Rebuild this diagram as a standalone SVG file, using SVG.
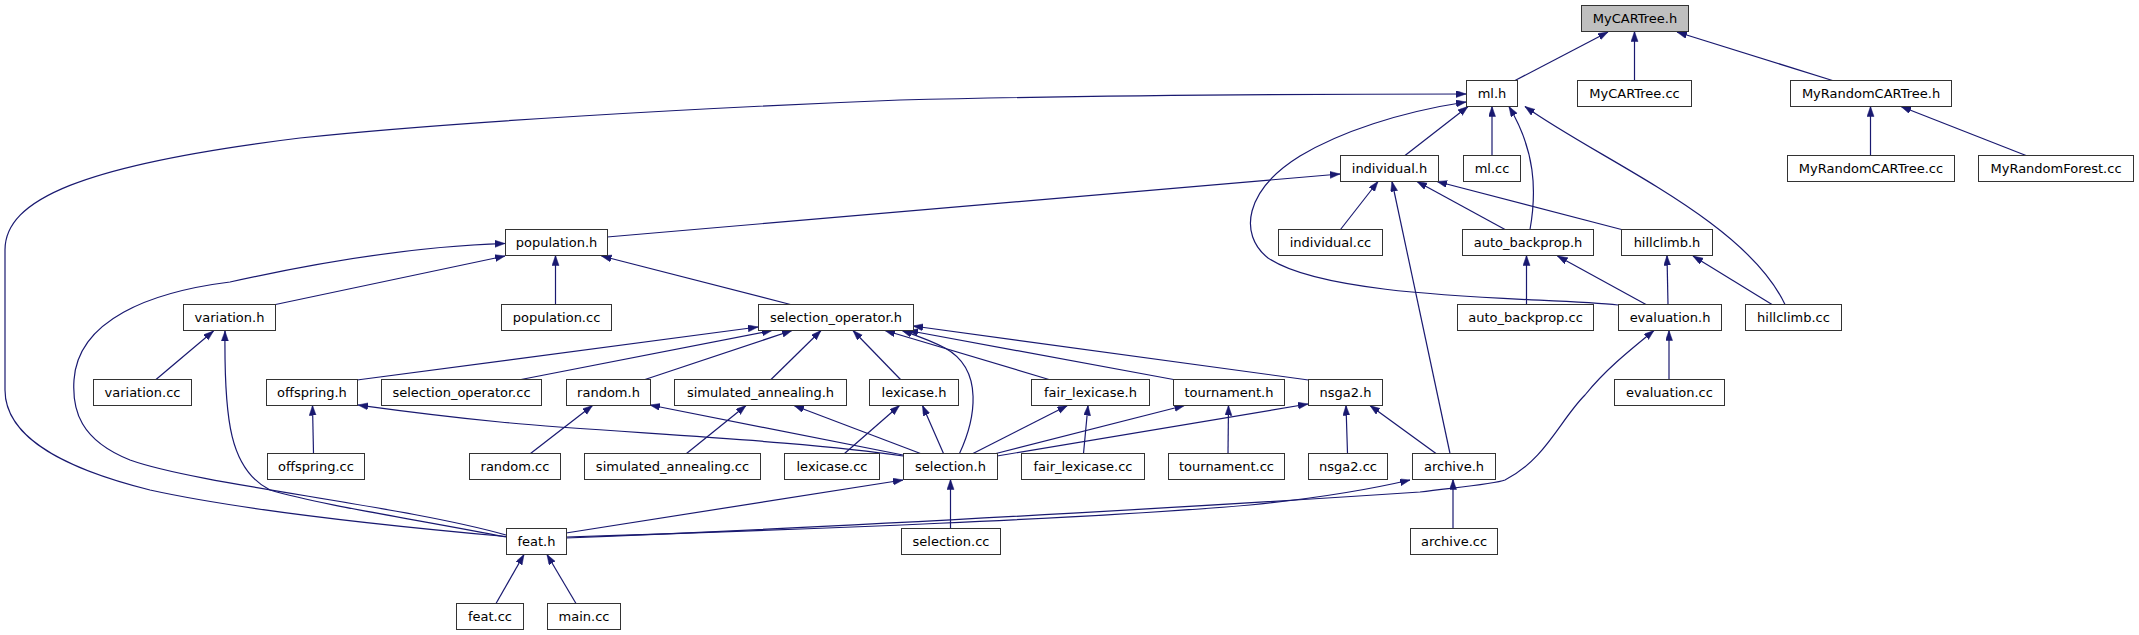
<svg xmlns="http://www.w3.org/2000/svg" width="2139" height="635" viewBox="0 0 2139 635">
<style>
.n rect{fill:#ffffff;stroke:#333333;stroke-width:1}
.root rect{fill:#bfbfbf;stroke:#333333;stroke-width:1}
text{font-family:"DejaVu Sans","Liberation Sans",sans-serif;font-size:13px;fill:#000000;text-anchor:middle}
.e path{fill:none;stroke:#191970;stroke-width:1.2;marker-end:url(#ah)}
</style>
<defs>
<marker id="ah" markerUnits="userSpaceOnUse" markerWidth="11" markerHeight="8" refX="10" refY="3.5" orient="auto">
<path d="M0,0 L10,3.5 L0,7 z" fill="#191970" stroke="#191970" stroke-width="0.5"/>
</marker>
</defs>
<rect x="0" y="0" width="2139" height="635" fill="#ffffff"/>
<g class="e" id="connectors">
<path d="M1515,80.5 L1608,32"/>
<path d="M1634.5,80.5 L1634.5,31.5"/>
<path d="M1832.5,80.5 L1677,32"/>
<path d="M1870.5,155.5 L1870.5,106.5"/>
<path d="M2026,155.5 L1901,106.5"/>
<path d="M506,536.5 C400,527 250,512 150,490 C70,470 5,440 5,390 L5,250 C5,200 80,165 300,138 C450,122 700,108 900,100 C1100,95 1300,94 1466,94"/>
<path d="M607,237 L1340,174"/>
<path d="M1405,155.5 L1468,106.5"/>
<path d="M1618,305 C1540,297 1330,300 1268,258 C1238,234 1245,190 1300,156 C1340,132 1400,112 1466,102"/>
<path d="M1492,155.5 L1492,106.5"/>
<path d="M1530,229.5 C1537,190 1535,150 1509,106.5"/>
<path d="M1785,304.5 C1745,220 1600,160 1525,106.5"/>
<path d="M1340.5,229.5 L1378,181.5"/>
<path d="M1450,453.5 L1392,181.5"/>
<path d="M1505,229.5 L1417,181.5"/>
<path d="M1621.5,229.5 L1437,181.5"/>
<path d="M555.5,304.5 L555.5,255.5"/>
<path d="M275.5,304.5 L505,256"/>
<path d="M506,535 C400,505 200,485 130,460 C80,440 72,410 74,380 C78,320 150,292 230,282 C320,262 420,246 505,243.5"/>
<path d="M790.5,304.5 L601.5,256"/>
<path d="M156,379.5 L213.5,331"/>
<path d="M506,537 C420,520 320,505 270,490 C230,470 224,420 225,331"/>
<path d="M357,380 L758,327"/>
<path d="M521,379.5 L772,330.5"/>
<path d="M645,379.5 L792,330.5"/>
<path d="M771,379.5 L821,330.5"/>
<path d="M900.5,379.5 L853,330.5"/>
<path d="M959.5,453.5 C975,420 985,370 945,348 C930,340 915,335 902,330.5"/>
<path d="M1049,379.5 L885,330.5"/>
<path d="M1173.5,379.5 L908,330.5"/>
<path d="M1308.5,380 L913,326"/>
<path d="M313.5,453.5 L312.5,405.5"/>
<path d="M903,456 C800,440 600,432 500,422 C430,415 380,408 358,405"/>
<path d="M530.5,453.5 L592.5,405.5"/>
<path d="M903,455 L650,405"/>
<path d="M686.5,453.5 L746,405.5"/>
<path d="M920.5,453.5 L794,405.5"/>
<path d="M844.5,453.5 L899.5,405.5"/>
<path d="M943.5,453.5 L922.5,405.5"/>
<path d="M973,453.5 L1067.5,405.5"/>
<path d="M1083.5,453.5 L1088,405.5"/>
<path d="M996,453.5 L1184.5,405.5"/>
<path d="M1228,453.5 L1228.5,405.5"/>
<path d="M997,456 L1308,404"/>
<path d="M1347.5,453.5 L1346,405.5"/>
<path d="M1436,453.5 L1370,405.5"/>
<path d="M950.5,528.5 L950.5,479.5"/>
<path d="M566,533 L903,480"/>
<path d="M566,537 C800,530 1100,518 1250,505 C1330,497 1380,487 1410,480"/>
<path d="M566,538 C900,525 1300,500 1420,492 C1460,487 1495,484 1505,480 C1545,460 1560,420 1585,395 C1605,370 1630,350 1654,330.5"/>
<path d="M1453,528.5 L1453,479.5"/>
<path d="M1669,379.5 L1669,330.5"/>
<path d="M1526.5,304.5 L1526.5,255.5"/>
<path d="M1646,304.5 L1557.5,256"/>
<path d="M1668,304.5 L1667,255.5"/>
<path d="M1772,304.5 L1693,256"/>
<path d="M496,603.5 L524,554.5"/>
<path d="M576,603.5 L547,554.5"/>
</g>
<g id="MyCARTree_h" class="root"><rect x="1581.5" y="5.5" width="107" height="26"/><text x="1635" y="22.5">MyCARTree.h</text></g>
<g id="ml_h" class="n"><rect x="1466.5" y="80.5" width="51" height="26"/><text x="1492" y="97.5">ml.h</text></g>
<g id="MyCARTree_cc" class="n"><rect x="1577.5" y="80.5" width="114" height="26"/><text x="1634.5" y="97.5">MyCARTree.cc</text></g>
<g id="MyRandomCARTree_h" class="n"><rect x="1790.5" y="80.5" width="161" height="26"/><text x="1871" y="97.5">MyRandomCARTree.h</text></g>
<g id="individual_h" class="n"><rect x="1340.5" y="155.5" width="98" height="26"/><text x="1389.5" y="172.5">individual.h</text></g>
<g id="ml_cc" class="n"><rect x="1463.5" y="155.5" width="57" height="26"/><text x="1492" y="172.5">ml.cc</text></g>
<g id="MyRandomCARTree_cc" class="n"><rect x="1787.5" y="155.5" width="167" height="26"/><text x="1871" y="172.5">MyRandomCARTree.cc</text></g>
<g id="MyRandomForest_cc" class="n"><rect x="1978.5" y="155.5" width="155" height="26"/><text x="2056" y="172.5">MyRandomForest.cc</text></g>
<g id="population_h" class="n"><rect x="505.5" y="229.5" width="102" height="26"/><text x="556.5" y="246.5">population.h</text></g>
<g id="individual_cc" class="n"><rect x="1278.5" y="229.5" width="104" height="26"/><text x="1330.5" y="246.5">individual.cc</text></g>
<g id="auto_backprop_h" class="n"><rect x="1462.5" y="229.5" width="131" height="26"/><text x="1528" y="246.5">auto_backprop.h</text></g>
<g id="hillclimb_h" class="n"><rect x="1621.5" y="229.5" width="91" height="26"/><text x="1667" y="246.5">hillclimb.h</text></g>
<g id="variation_h" class="n"><rect x="183.5" y="304.5" width="92" height="26"/><text x="229.5" y="321.5">variation.h</text></g>
<g id="population_cc" class="n"><rect x="501.5" y="304.5" width="110" height="26"/><text x="556.5" y="321.5">population.cc</text></g>
<g id="selection_operator_h" class="n"><rect x="758.5" y="304.5" width="155" height="26"/><text x="836" y="321.5">selection_operator.h</text></g>
<g id="auto_backprop_cc" class="n"><rect x="1457.5" y="304.5" width="136" height="26"/><text x="1525.5" y="321.5">auto_backprop.cc</text></g>
<g id="evaluation_h" class="n"><rect x="1618.5" y="304.5" width="103" height="26"/><text x="1670" y="321.5">evaluation.h</text></g>
<g id="hillclimb_cc" class="n"><rect x="1745.5" y="304.5" width="96" height="26"/><text x="1793.5" y="321.5">hillclimb.cc</text></g>
<g id="variation_cc" class="n"><rect x="93.5" y="379.5" width="98" height="26"/><text x="142.5" y="396.5">variation.cc</text></g>
<g id="offspring_h" class="n"><rect x="266.5" y="379.5" width="91" height="26"/><text x="312" y="396.5">offspring.h</text></g>
<g id="selection_operator_cc" class="n"><rect x="381.5" y="379.5" width="160" height="26"/><text x="461.5" y="396.5">selection_operator.cc</text></g>
<g id="random_h" class="n"><rect x="566.5" y="379.5" width="84" height="26"/><text x="608.5" y="396.5">random.h</text></g>
<g id="simulated_annealing_h" class="n"><rect x="674.5" y="379.5" width="172" height="26"/><text x="760.5" y="396.5">simulated_annealing.h</text></g>
<g id="lexicase_h" class="n"><rect x="869.5" y="379.5" width="89" height="26"/><text x="914" y="396.5">lexicase.h</text></g>
<g id="fair_lexicase_h" class="n"><rect x="1031.5" y="379.5" width="118" height="26"/><text x="1090.5" y="396.5">fair_lexicase.h</text></g>
<g id="tournament_h" class="n"><rect x="1173.5" y="379.5" width="111" height="26"/><text x="1229" y="396.5">tournament.h</text></g>
<g id="nsga2_h" class="n"><rect x="1308.5" y="379.5" width="74" height="26"/><text x="1345.5" y="396.5">nsga2.h</text></g>
<g id="evaluation_cc" class="n"><rect x="1614.5" y="379.5" width="110" height="26"/><text x="1669.5" y="396.5">evaluation.cc</text></g>
<g id="offspring_cc" class="n"><rect x="267.5" y="453.5" width="97" height="26"/><text x="316" y="470.5">offspring.cc</text></g>
<g id="random_cc" class="n"><rect x="469.5" y="453.5" width="91" height="26"/><text x="515" y="470.5">random.cc</text></g>
<g id="simulated_annealing_cc" class="n"><rect x="584.5" y="453.5" width="176" height="26"/><text x="672.5" y="470.5">simulated_annealing.cc</text></g>
<g id="lexicase_cc" class="n"><rect x="784.5" y="453.5" width="95" height="26"/><text x="832" y="470.5">lexicase.cc</text></g>
<g id="selection_h" class="n"><rect x="903.5" y="453.5" width="94" height="26"/><text x="950.5" y="470.5">selection.h</text></g>
<g id="fair_lexicase_cc" class="n"><rect x="1021.5" y="453.5" width="123" height="26"/><text x="1083" y="470.5">fair_lexicase.cc</text></g>
<g id="tournament_cc" class="n"><rect x="1168.5" y="453.5" width="116" height="26"/><text x="1226.5" y="470.5">tournament.cc</text></g>
<g id="nsga2_cc" class="n"><rect x="1308.5" y="453.5" width="79" height="26"/><text x="1348" y="470.5">nsga2.cc</text></g>
<g id="archive_h" class="n"><rect x="1412.5" y="453.5" width="83" height="26"/><text x="1454" y="470.5">archive.h</text></g>
<g id="feat_h" class="n"><rect x="506.5" y="528.5" width="60" height="26"/><text x="536.5" y="545.5">feat.h</text></g>
<g id="selection_cc" class="n"><rect x="901.5" y="528.5" width="99" height="26"/><text x="951" y="545.5">selection.cc</text></g>
<g id="archive_cc" class="n"><rect x="1410.5" y="528.5" width="87" height="26"/><text x="1454" y="545.5">archive.cc</text></g>
<g id="feat_cc" class="n"><rect x="456.5" y="603.5" width="67" height="26"/><text x="490" y="620.5">feat.cc</text></g>
<g id="main_cc" class="n"><rect x="547.5" y="603.5" width="73" height="26"/><text x="584" y="620.5">main.cc</text></g>
</svg>
